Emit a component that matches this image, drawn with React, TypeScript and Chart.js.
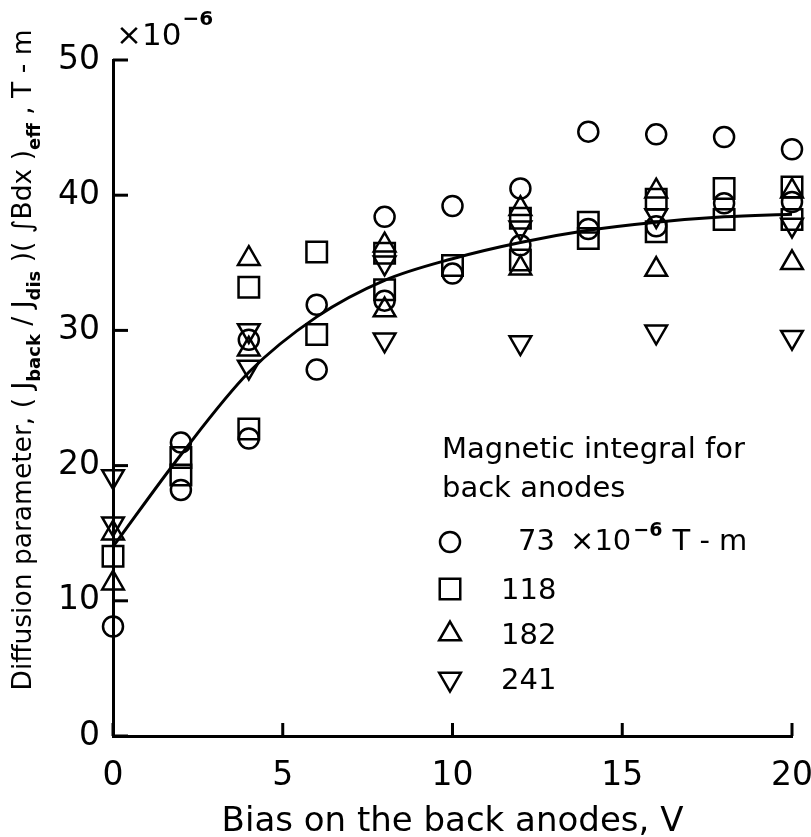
import React, { useEffect, useRef } from 'react';
import { Chart, registerables } from 'chart.js';
import { drawPoint } from 'chart.js/helpers';

Chart.register(...registerables);

const FONT = '"DejaVu Sans", sans-serif';

// Axis ticks
const xTicks = [0, 5, 10, 15, 20];
const yTicks = [0, 10, 20, 30, 40, 50];

// Fitted curve
const fitX = [0, 2, 4, 6, 8, 10, 12, 14, 16, 18, 20];
const fitY = [14, 20.8, 26.9, 31, 33.7, 35.3, 36.5, 37.4, 38, 38.4, 38.6];

// 73 x10^-6 T-m (circles)
const circleX = [0, 2, 2, 4, 4, 6, 6, 8, 8, 10, 10, 12, 12, 14, 14, 16, 16, 18, 18, 20, 20];
const circleY = [8.1, 21.7, 18.2, 29.3, 22.0, 31.9, 27.1, 38.4, 32.2, 39.2, 34.2, 40.5, 36.3, 44.7, 37.5, 44.5, 37.7, 44.3, 39.4, 43.4, 39.5];

// 118 (squares)
const squareX = [0, 2, 2, 4, 4, 6, 6, 8, 8, 10, 12, 12, 14, 14, 16, 16, 18, 18, 20, 20];
const squareY = [13.3, 20.6, 19.3, 33.2, 22.7, 35.8, 29.7, 35.7, 33.0, 34.8, 38.3, 35.2, 38.0, 36.8, 39.7, 37.3, 40.5, 38.2, 40.6, 38.2];

// 182 (up triangles)
const upX = [0, 0, 4, 4, 8, 8, 12, 12, 16, 16, 20, 20];
const upY = [15.0, 11.3, 35.3, 28.6, 36.3, 31.5, 39.0, 34.6, 40.3, 34.5, 40.3, 35.0];

// 241 (down triangles)
const downX = [0, 0, 4, 4, 8, 8, 12, 12, 16, 16, 20, 20];
const downY = [19.2, 15.7, 30.0, 27.3, 35.0, 29.3, 37.6, 29.1, 38.5, 29.9, 37.8, 29.5];

const legendLabels = ['73', '118', '182', '241'];

const markers = [
  { pointStyle: 'circle', radius: 10, rotation: 0 },
  { pointStyle: 'rect', radius: 14.5, rotation: 0 },
  { pointStyle: 'triangle', radius: 12.5, rotation: 0 },
  { pointStyle: 'triangle', radius: 12.5, rotation: 180 },
];

const toPts = (xs: number[], ys: number[]) => xs.map((x, i) => ({ x, y: ys[i] }));

const decor = {
  id: 'decor',
  afterDraw(chart: any) {
    const { ctx, chartArea: ca, scales } = chart;
    const x = scales.x;
    const y = scales.y;
    ctx.save();
    ctx.strokeStyle = '#000';
    ctx.fillStyle = '#000';
    ctx.lineWidth = 3;
    // inward ticks
    yTicks.forEach((v) => {
      const py = y.getPixelForValue(v);
      ctx.beginPath();
      ctx.moveTo(ca.left, py);
      ctx.lineTo(ca.left + 15, py);
      ctx.stroke();
    });
    xTicks.forEach((v) => {
      const px = x.getPixelForValue(v);
      ctx.beginPath();
      ctx.moveTo(px, ca.bottom);
      ctx.lineTo(px, ca.bottom - 13);
      ctx.stroke();
    });

    ctx.textBaseline = 'alphabetic';
    ctx.textAlign = 'left';

    // x10^-6 multiplier
    ctx.font = `31px ${FONT}`;
    ctx.fillText('×10', ca.left + 3, 45);
    const wm = ctx.measureText('×10').width;
    ctx.font = `bold 20px ${FONT}`;
    ctx.fillText('−6', ca.left + 3 + wm + 1, 25);

    // x title
    ctx.font = `34px ${FONT}`;
    ctx.textAlign = 'center';
    ctx.fillText('Bias on the back anodes, V', (ca.left + ca.right) / 2, 831);
    ctx.textAlign = 'left';

    // y title with subscripts
    const segs = [
      { t: 'Diffusion parameter, ( J', sub: false },
      { t: 'back', sub: true },
      { t: ' / J', sub: false },
      { t: 'dis', sub: true },
      { t: ' )( ∫Bdx )', sub: false },
      { t: 'eff', sub: true },
      { t: ' , T - m', sub: false },
    ];
    const mainFont = `26.5px ${FONT}`;
    const subFont = `bold 18px ${FONT}`;
    let total = 0;
    const widths = segs.map((s) => {
      ctx.font = s.sub ? subFont : mainFont;
      const w = ctx.measureText(s.t).width;
      total += w;
      return w;
    });
    ctx.save();
    ctx.translate(31, 360);
    ctx.rotate(-Math.PI / 2);
    let cx = -total / 2;
    segs.forEach((s, i) => {
      ctx.font = s.sub ? subFont : mainFont;
      ctx.fillText(s.t, cx, s.sub ? 9 : 0);
      cx += widths[i];
    });
    ctx.restore();

    // legend
    ctx.font = `29px ${FONT}`;
    ctx.fillText('Magnetic integral for', 442, 458);
    ctx.fillText('back anodes', 442, 497);
    const rowY = [542, 589, 634, 679];
    const markX = 450;
    legendLabels.forEach((lab, i) => {
      const m = markers[i];
      ctx.lineWidth = 2.5;
      ctx.strokeStyle = '#000';
      ctx.fillStyle = 'rgba(0,0,0,0)';
      drawPoint(ctx, { pointStyle: m.pointStyle, radius: m.radius, rotation: m.rotation, borderWidth: 2.5 } as any, markX, rowY[i]);
      ctx.fillStyle = '#000';
      ctx.font = `29px ${FONT}`;
      if (i === 0) {
        let tx = 518;
        ctx.fillText('73', tx, rowY[i] + 8);
        tx += ctx.measureText('73 ').width + 6;
        ctx.fillText('×10', tx, rowY[i] + 8);
        tx += ctx.measureText('×10').width + 2;
        ctx.font = `bold 19px ${FONT}`;
        ctx.fillText('−6', tx, rowY[i] - 6);
        tx += ctx.measureText('−6').width + 10;
        ctx.font = `29px ${FONT}`;
        ctx.fillText('T - m', tx, rowY[i] + 8);
      } else {
        ctx.fillText(lab, 501, rowY[i] + 10);
      }
    });
    ctx.restore();
  },
};

export default function App() {
  const ref = useRef<HTMLCanvasElement>(null);
  useEffect(() => {
    const series = [
      toPts(circleX, circleY),
      toPts(squareX, squareY),
      toPts(upX, upY),
      toPts(downX, downY),
    ];
    const datasets: any[] = series.map((data, i) => ({
      label: legendLabels[i],
      data,
      showLine: false,
      pointStyle: markers[i].pointStyle,
      pointRadius: markers[i].radius,
      pointRotation: markers[i].rotation,
      pointBorderWidth: 2.5,
      pointBorderColor: '#000',
      pointBackgroundColor: 'rgba(0,0,0,0)',
      clip: false,
    }));
    datasets.push({
      label: 'fit',
      data: toPts(fitX, fitY),
      showLine: true,
      borderColor: '#000',
      borderWidth: 3,
      pointRadius: 0,
      cubicInterpolationMode: 'monotone',
      fill: false,
      clip: false,
    });
    const chart = new Chart(ref.current as HTMLCanvasElement, {
      type: 'scatter',
      data: { datasets },
      options: {
        responsive: false,
        animation: false,
        devicePixelRatio: 1,
        layout: { padding: { left: 0, top: 60, right: 19, bottom: 0 } },
        plugins: { legend: { display: false }, tooltip: { enabled: false } },
        scales: {
          x: {
            type: 'linear',
            min: 0,
            max: 20,
            afterFit: (s: any) => { s.height = 101; s.paddingLeft = 0; s.paddingRight = 0; },
            afterBuildTicks: (s: any) => { s.ticks = xTicks.map((v) => ({ value: v })); },
            grid: { display: false, drawTicks: false },
            border: { display: true, width: 3, color: '#000' },
            ticks: { font: { family: FONT, size: 33 }, color: '#000', padding: 21, maxRotation: 0, autoSkip: false },
          },
          y: {
            type: 'linear',
            min: 0,
            max: 50,
            afterFit: (s: any) => { s.width = 113; s.paddingTop = 0; s.paddingBottom = 0; },
            afterBuildTicks: (s: any) => { s.ticks = yTicks.map((v) => ({ value: v })); },
            grid: { display: false, drawTicks: false },
            border: { display: true, width: 3, color: '#000' },
            ticks: { font: { family: FONT, size: 33 }, color: '#000', padding: 13, autoSkip: false },
          },
        },
      },
      plugins: [decor],
    } as any);
    return () => chart.destroy();
  }, []);
  return (
    <div style={{ position: 'fixed', left: 0, top: 0, width: 811, height: 837, background: '#fff' }}>
      <canvas ref={ref} width={811} height={837} style={{ display: 'block', width: 811, height: 837 }} />
    </div>
  );
}
